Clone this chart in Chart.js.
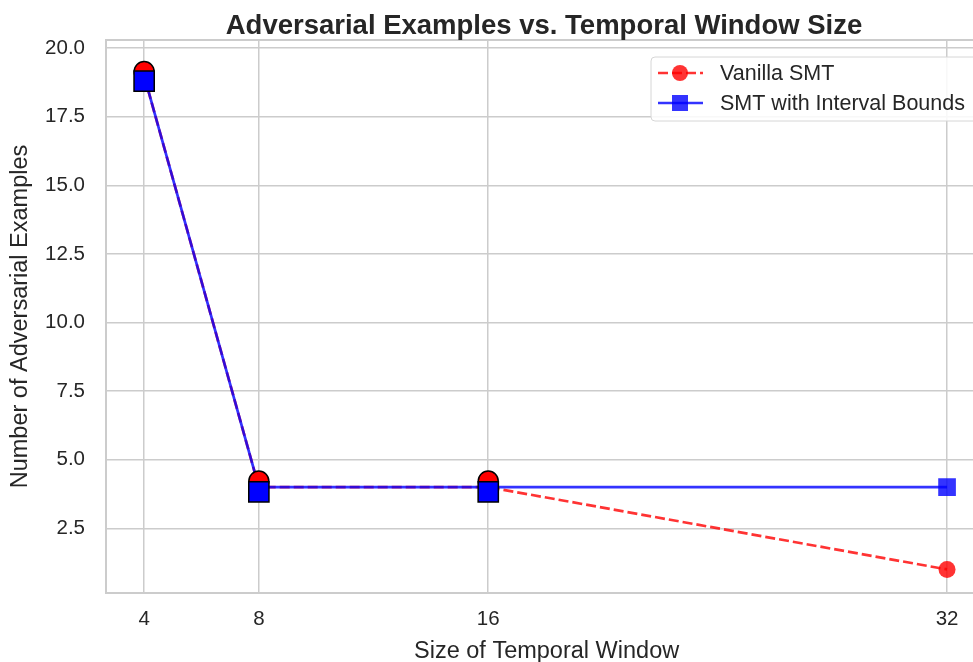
<!DOCTYPE html>
<html>
<head>
<meta charset="utf-8">
<script src="https://cdn.jsdelivr.net/npm/chart.js@4/dist/chart.umd.min.js"></script>
<style>
  html, body { margin: 0; padding: 0; background: #fff; overflow: hidden; }
  #wrap { width: 973px; height: 662px; overflow: hidden; }
</style>
</head>
<body>
<div id="wrap"><canvas id="c" width="1003" height="662"></canvas></div>
<script>
const windowSizes = [4, 8, 16, 32];
const vanillaSmt = [19, 4, 4, 1];
const intervalSmt = [19, 4, 4, 4];
// highlighted (overlapping) points, drawn slightly apart so both show
const highlightSizes = [4, 8, 16];
const vanillaHighlight = [19.15, 4.22, 4.22];
const intervalHighlight = [18.8, 3.83, 3.83];
const yTicks = [2.5, 5.0, 7.5, 10.0, 12.5, 15.0, 17.5, 20.0];

const FONT = "'Liberation Sans', Arial, sans-serif";
const TXT = "#262626";
const GRID = "#cccccc";

const pts = (xs, ys) => xs.map((x, i) => ({ x: x, y: ys[i] }));

const overlay = {
    id: "overlay",
    afterDraw(chart) {
        const ctx = chart.ctx;
        const a = chart.chartArea;
        ctx.save();
        // frame (top/right spines)
        ctx.strokeStyle = GRID;
        ctx.lineWidth = 2;
        ctx.beginPath();
        ctx.moveTo(a.left, a.top);
        ctx.lineTo(a.right, a.top);
        ctx.lineTo(a.right, a.bottom);
        ctx.stroke();

        // title
        ctx.fillStyle = TXT;
        ctx.font = "bold 27.5px " + FONT;
        ctx.textAlign = "center";
        ctx.textBaseline = "middle";
        ctx.fillText("Adversarial Examples vs. Temporal Window Size", 544, 26);

        // legend
        const bx = 651, by = 57, bw = 330, bh = 64;
        ctx.fillStyle = "rgba(255,255,255,0.85)";
        ctx.strokeStyle = "#d6d6d6";
        ctx.lineWidth = 1;
        ctx.beginPath();
        ctx.roundRect(bx, by, bw, bh, 4);
        ctx.fill();
        ctx.stroke();

        const rows = [
            { label: "Vanilla SMT", color: "rgba(255,0,0,0.8)", dash: [10, 4], shape: "circle" },
            { label: "SMT with Interval Bounds", color: "rgba(0,0,255,0.8)", dash: [], shape: "square" }
        ];
        rows.forEach((r, i) => {
            const y = by + 16 + i * 30;
            ctx.strokeStyle = r.color;
            ctx.lineWidth = 2.7;
            ctx.setLineDash(r.dash);
            ctx.beginPath();
            ctx.moveTo(658, y);
            ctx.lineTo(703, y);
            ctx.stroke();
            ctx.setLineDash([]);
            ctx.fillStyle = r.color;
            if (r.shape === "circle") {
                ctx.beginPath();
                ctx.arc(680, y, 8, 0, Math.PI * 2);
                ctx.fill();
            } else {
                ctx.fillRect(672, y - 8, 16, 16);
            }
            ctx.fillStyle = TXT;
            ctx.font = "21.5px " + FONT;
            ctx.textAlign = "left";
            ctx.fillText(r.label, 720, y + 1);
        });
        ctx.restore();
    }
};

new Chart(document.getElementById("c").getContext("2d"), {
    type: "line",
    data: {
        datasets: [
            {
                label: "Vanilla SMT",
                data: pts(windowSizes, vanillaSmt),
                borderColor: "rgba(255,0,0,0.8)",
                backgroundColor: "rgba(255,0,0,0.8)",
                borderWidth: 2.7,
                borderDash: [10, 4],
                pointStyle: "circle",
                pointRadius: 8.5,
                pointBorderWidth: 0,
                order: 4
            },
            {
                label: "SMT with Interval Bounds",
                data: pts(windowSizes, intervalSmt),
                borderColor: "rgba(0,0,255,0.8)",
                backgroundColor: "rgba(0,0,255,0.8)",
                borderWidth: 2.7,
                pointStyle: "rect",
                pointRadius: 12.5,
                pointBorderWidth: 0,
                order: 3
            },
            {
                label: "hl-vanilla",
                data: pts(highlightSizes, vanillaHighlight),
                showLine: false,
                backgroundColor: "#ff0000",
                borderColor: "#000",
                pointStyle: "circle",
                pointRadius: 10,
                pointBorderWidth: 1.5,
                order: 2
            },
            {
                label: "hl-interval",
                data: pts(highlightSizes, intervalHighlight),
                showLine: false,
                backgroundColor: "#0000ff",
                borderColor: "#000",
                pointStyle: "rect",
                pointRadius: 14.3,
                pointBorderWidth: 1.5,
                order: 1
            }
        ]
    },
    options: {
        responsive: false,
        animation: false,
        layout: { padding: { top: 40, right: 4, left: 0, bottom: 0 } },
        plugins: {
            legend: { display: false },
            title: { display: false },
            tooltip: { enabled: false }
        },
        scales: {
            x: {
                type: "linear",
                min: 2.67,
                max: 33.4,
                afterBuildTicks: s => { s.ticks = windowSizes.map(v => ({ value: v })); },
                afterFit: s => { s.height = 69; },
                grid: { color: GRID, lineWidth: 1.5, drawTicks: false },
                border: { color: GRID, width: 2 },
                ticks: { color: TXT, font: { family: FONT, size: 20.5 }, padding: 14, maxRotation: 0 },
                title: { display: true, text: "Size of Temporal Window", color: TXT, font: { family: FONT, size: 23.5 }, padding: { top: 0, bottom: -4 } }
            },
            y: {
                min: 0.14,
                max: 20.3,
                afterBuildTicks: s => { s.ticks = yTicks.map(v => ({ value: v })); },
                afterFit: s => { s.width = 106; },
                grid: { color: GRID, lineWidth: 1.5, drawTicks: false },
                border: { color: GRID, width: 2 },
                ticks: { color: TXT, font: { family: FONT, size: 20.5 }, padding: 21, callback: v => v.toFixed(1) },
                title: { display: true, text: "Number of Adversarial Examples", color: TXT, font: { family: FONT, size: 23.5 }, padding: 6 }
            }
        }
    },
    plugins: [overlay]
});
</script>
</body>
</html>
